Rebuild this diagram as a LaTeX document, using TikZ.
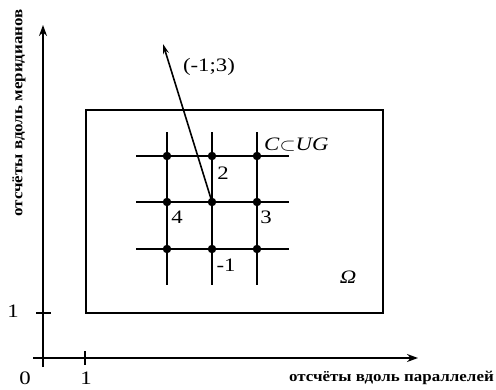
\documentclass[tikz,border=0pt]{standalone}
\usepackage{fontspec}
\usepackage{graphicx}
\setmainfont{Liberation Serif}
\usetikzlibrary{arrows.meta}
\newcommand{\wide}[1]{\scalebox{1.2}[1]{#1}}
\newcommand{\wideax}[1]{\scalebox{1.13}[1]{#1}}
\begin{document}
\begin{tikzpicture}[x=1pt,y=-1pt,
  axisline/.style={line width=1.7pt,-{Stealth[length=11pt,width=8pt]}},
  thinline/.style={line width=1.7pt},
  gridline/.style={line width=1.7pt},
  dot/.style={circle,fill=black,inner sep=0pt,minimum size=8.5pt},
  lbl/.style={inner sep=0pt,font=\fontsize{19}{22}\selectfont},
  axlbl/.style={inner sep=0pt,font=\fontsize{15}{17}\selectfont\bfseries}]
\useasboundingbox (0,0) rectangle (496,389);
% axes
\coordinate (ybot) at (43,367);
\coordinate (ytop) at (43,25);
\coordinate (xleft) at (33,358);
\coordinate (xright) at (418,358);
\draw[axisline] (ybot) -- (ytop);
\draw[axisline] (xleft) -- (xright);
% ticks
\coordinate (tx1a) at (85,351); \coordinate (tx1b) at (85,365);
\coordinate (ty1a) at (36,313); \coordinate (ty1b) at (51,313);
\draw[thinline] (tx1a) -- (tx1b);
\draw[thinline] (ty1a) -- (ty1b);
\node[lbl] (l0) at (25,378) {\wide{0}};
\node[lbl] (lx1) at (86,378) {\wide{1}};
\node[lbl] (ly1) at (13,311) {\wide{1}};
\node[axlbl,rotate=90] (ylab) at (19,113) {\wideax{отсчёты вдоль меридианов}};
\node[axlbl,anchor=east] (xlab) at (494,378) {\wideax{отсчёты вдоль параллелей}};
% region
\coordinate (r1) at (86,110); \coordinate (r2) at (383,313);
\draw[thinline] (r1) rectangle (r2);
\node[lbl] (omega) at (348,277) {\wide{\textit{Ω}}};
% grid
\foreach \x/\n in {167/a,212/b,257/c} {
  \coordinate (v\n1) at (\x,132); \coordinate (v\n2) at (\x,285);
  \draw[gridline] (v\n1) -- (v\n2);
}
\foreach \y/\n in {156/a,202/b,249/c} {
  \coordinate (h\n1) at (136,\y); \coordinate (h\n2) at (289,\y);
  \draw[gridline] (h\n1) -- (h\n2);
}
\foreach \x/\i in {167/1,212/2,257/3} {
  \foreach \y/\j in {156/1,202/2,249/3} {
    \node[dot] (p\i\j) at (\x,\y) {};
  }
}
% vector
\coordinate (vtip) at (163,44);
\draw[line width=1.6pt,-{Stealth[length=10pt,width=6pt]}] (p22.center) -- (vtip);
\node[lbl] (vlab) at (209,67) {\wide{(-1;3)}};
\node[lbl,anchor=west] (cug) at (264,145) {\wide{\textit{C}$\subset$\textit{UG}}};
\node[lbl] (n2) at (223,173) {\wide{2}};
\node[lbl] (n4) at (177,217) {\wide{4}};
\node[lbl] (n3) at (266,217) {\wide{3}};
\node[lbl] (n1) at (226,265) {\wide{-1}};
\end{tikzpicture}
\end{document}
